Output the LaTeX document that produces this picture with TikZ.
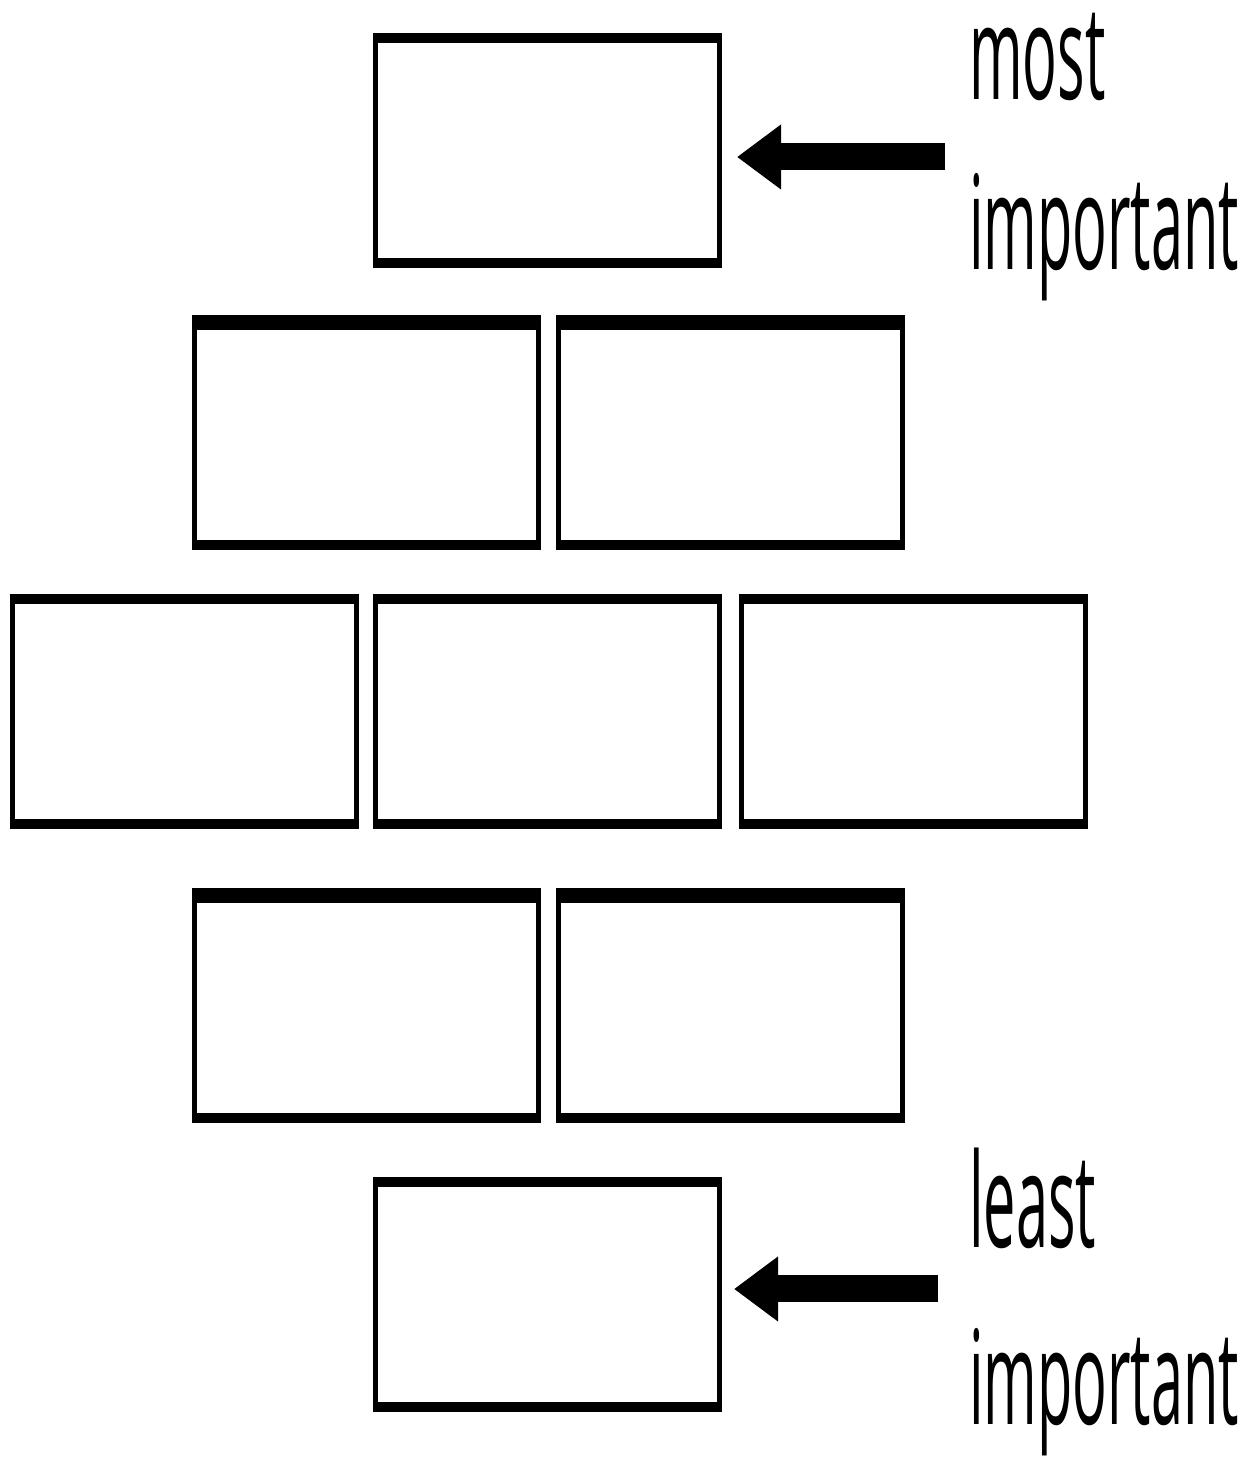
\documentclass[tikz,border=0pt]{standalone}
\usepackage{fontspec}
\newfontfamily\lab{Open Sans}
\usetikzlibrary{arrows.meta}
\begin{document}
\begin{tikzpicture}[x=1pt,y=1pt,
  brick/.style={draw, line width=5pt, minimum width=344pt, minimum height=230pt, inner sep=0pt},
  edge/.style={line width=10pt, line cap=butt},
  thickedge/.style={line width=15pt, line cap=butt},
  arr/.style={line width=27pt, -{Triangle[length=44pt,width=62pt]}},
  word/.style={anchor=base west, inner sep=0pt, xscale=0.44, font=\lab\fontsize{131}{131}\selectfont}]
\useasboundingbox (0,0) rectangle (1253,1457);
% bricks
\node[brick] (r1)  at (547.5,1306.5) {};
\node[brick] (r2a) at (366.5,1024) {};
\node[brick] (r2b) at (730.5,1024) {};
\node[brick] (r3a) at (184,745.5) {};
\node[brick] (r3b) at (547.5,745.5) {};
\node[brick] (r3c) at (913,745.5) {};
\node[brick] (r4a) at (366.5,451) {};
\node[brick] (r4b) at (730.5,451) {};
\node[brick] (r5)  at (547.5,162) {};
% heavier horizontal edges
\foreach \b in {r1,r3a,r3b,r3c,r5}{
  \draw[edge] ([yshift=-5pt]\b.north west) -- ([yshift=-5pt]\b.north east);
}
\foreach \b in {r2a,r2b,r4a,r4b}{
  \draw[thickedge] ([yshift=-7.5pt]\b.north west) -- ([yshift=-7.5pt]\b.north east);
}
\foreach \b in {r1,r2a,r2b,r3a,r3b,r3c,r4a,r4b,r5}{
  \draw[edge] ([yshift=5pt]\b.south west) -- ([yshift=5pt]\b.south east);
}
% labels
\node[word] (t1) at (969,1357) {most};
\node[word] (t2) at (969,1187) {important};
\node[word] (t3) at (969,209) {least};
\node[word] (t4) at (969,32) {important};
% arrows
\coordinate (m1) at (945,1300);
\coordinate (m2) at (938,168);
\draw[arr] (m1) -- ([xshift=15pt]r1.east |- m1);
\draw[arr] (m2) -- ([xshift=12pt]r5.east |- m2);
\end{tikzpicture}
\end{document}
